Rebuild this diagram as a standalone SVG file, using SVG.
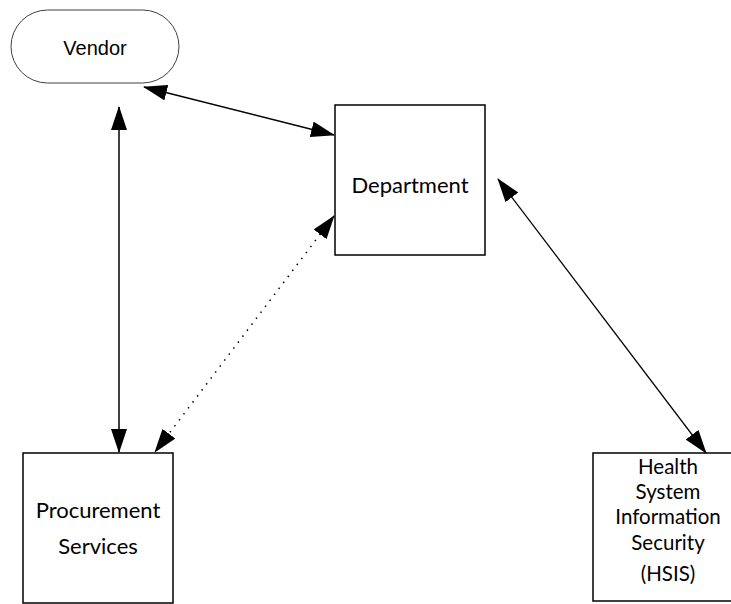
<svg xmlns="http://www.w3.org/2000/svg" width="731" height="604" viewBox="0 0 731 604">
<style>
.box{fill:#fff;stroke:#000;stroke-width:1.5}
.pill{fill:#fff;stroke:#404040;stroke-width:1}
.lbl{font-family:Lato,"Open Sans",sans-serif;font-size:22px;fill:#000;text-anchor:middle}
.sm{font-size:20.5px}
.ven{font-family:"Liberation Sans",Arial,sans-serif;font-size:20px;fill:#000;text-anchor:middle}
.ln{stroke:#000;stroke-width:1.5;fill:none}
.dot{stroke:#000;stroke-width:1.5;fill:none;stroke-dasharray:1.5 6}
</style>
<defs>
<marker id="ah" markerWidth="24" markerHeight="16" refX="23" refY="8" orient="auto-start-reverse" markerUnits="userSpaceOnUse">
<path d="M0,0 L24,8 L0,16 z" fill="#000"/>
</marker>
</defs>
<g id="vendor">
<rect class="pill" x="11" y="10" width="168" height="73" rx="36.5" ry="36.5"/>
<text class="ven" x="95" y="54.5">Vendor</text>
</g>
<g id="department">
<rect class="box" x="335" y="105" width="150" height="150"/>
<text class="lbl" x="410" y="192.5">Department</text>
</g>
<g id="procurement">
<rect class="box" x="23" y="453" width="150" height="150"/>
<text class="lbl" x="98" y="517.5">Procurement</text>
<text class="lbl" x="98" y="553.5">Services</text>
</g>
<g id="hsis">
<rect class="box" x="593" y="453" width="150" height="148"/>
<text class="lbl sm" x="668" y="474">Health</text>
<text class="lbl sm" x="668" y="499">System</text>
<text class="lbl sm" x="668" y="524">Information</text>
<text class="lbl sm" x="668" y="550">Security</text>
<text class="lbl sm" x="668" y="581">(HSIS)</text>
</g>
<g id="connectors">
<line class="ln" x1="144" y1="87" x2="334" y2="135" marker-start="url(#ah)" marker-end="url(#ah)"/>
<line class="ln" x1="119" y1="107" x2="119" y2="452" marker-start="url(#ah)" marker-end="url(#ah)"/>
<line class="dot" x1="334" y1="216" x2="155" y2="452" marker-start="url(#ah)" marker-end="url(#ah)"/>
<line class="ln" style="stroke-width:1.25" x1="498" y1="179" x2="706" y2="453" marker-start="url(#ah)" marker-end="url(#ah)"/>
</g>
</svg>
